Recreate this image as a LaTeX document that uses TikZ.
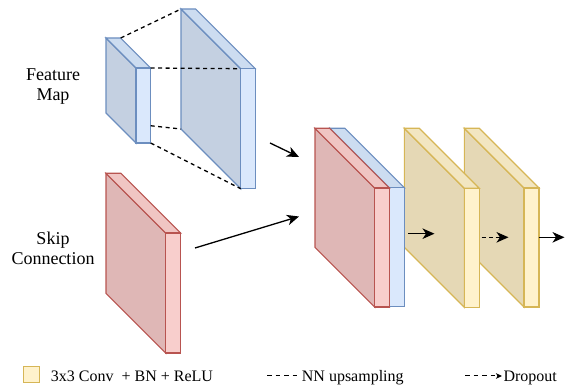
\documentclass[tikz,border=0pt]{standalone}
\usepackage{fontspec}
\setmainfont{Liberation Serif}
\newfontfamily\lblfont{Liberation Serif}
\usetikzlibrary{arrows.meta,calc}
\definecolor{bluefront}{HTML}{DAE8FC}
\definecolor{bluetop}{HTML}{CCDCF0}
\definecolor{bluedark}{HTML}{C4D0E1}
\definecolor{bluestroke}{HTML}{6C8EBF}
\definecolor{redfront}{HTML}{F8CECC}
\definecolor{redtop}{HTML}{F0C5C3}
\definecolor{reddark}{HTML}{DFB7B6}
\definecolor{redstroke}{HTML}{B85450}
\definecolor{yelfront}{HTML}{FFF2CC}
\definecolor{yeltop}{HTML}{F2E6C1}
\definecolor{yeldark}{HTML}{E5D8B5}
\definecolor{yelstroke}{HTML}{D6B656}
\tikzset{
  slabline/.style={line width=1.1pt, line join=miter},
  upline/.style={line width=1.3pt, dash pattern=on 4pt off 3.5pt},
  arr/.style={-{Stealth[length=12pt,width=10.5pt,inset=3.5pt]}, line width=1.3pt},
  smallarr/.style={-{Stealth[length=6pt,width=5.5pt,inset=1.5pt]}, line width=1pt},
  lbl/.style={font=\lblfont\fontsize{18}{20}\selectfont, align=center, inner sep=0pt},
  legtxt/.style={font=\lblfont\fontsize{16}{19}\selectfont, anchor=base west, inner sep=0pt},
}
% #1 name, #2 x, #3 y, #4 narrow width, #5 height, #6 depth, #7 colour prefix
\newcommand\slabblock[7]{%
  \path (#2,#3) coordinate (#1-tl) ++(#4,0) coordinate (#1-ttr)
        ++(#6,#6) coordinate (#1-ftr) ++(0,#5) coordinate (#1-fbr)
        ++(-#4,0) coordinate (#1-fbl) ++(0,-#5) coordinate (#1-ftl);
  \coordinate (#1-bl) at (#2,#3+#5);
  \draw[slabline, draw=#7stroke, fill=#7dark] (#1-tl) -- (#1-ftl) -- (#1-fbl) -- (#1-bl) -- cycle;
  \draw[slabline, draw=#7stroke, fill=#7top] (#1-tl) -- (#1-ttr) -- (#1-ftr) -- (#1-ftl) -- cycle;
  \draw[slabline, draw=#7stroke, fill=#7front] (#1-ftl) rectangle (#1-fbr);
}
\begin{document}
\begin{tikzpicture}[x=1pt,y=-1pt]
\useasboundingbox (0,0) rectangle (566,387);
% feature map blocks
\slabblock{fmS}{106}{38}{14.7}{75}{30}{blue}
\slabblock{fmB}{181}{9}{14.7}{120}{59.7}{blue}
\draw[upline] (fmS-ttr) -- (fmB-tl);
\draw[upline] (fmS-ftr) -- (fmB-ftl);
\coordinate (fmS-mid) at ($(fmS-ftr)!0.77!(fmS-fbr)$);
\draw[upline] (fmS-mid) -- (fmB-bl);
\draw[upline] (fmS-fbr) -- (fmB-fbl);
% skip connection
\slabblock{skip}{106}{173.3}{15}{120}{59.7}{red}
% right stack
\slabblock{yb}{464.3}{128.3}{15}{119}{59.7}{yel}
\slabblock{ya}{404.3}{128.3}{15}{119}{60}{yel}
\slabblock{cb}{330}{128.3}{15}{119}{59.5}{blue}
\slabblock{cr}{315}{128.3}{14.7}{119}{59.7}{red}
% labels
\node[lbl] (fmlabel) at (53,86.8) {Feature\\Map};
\node[lbl] (sklabel) at (53,248.5) {Skip\\Connection};
% arrows
\coordinate (a1s) at (270,143); \coordinate (a1e) at (299,157);
\coordinate (a2s) at (195,248); \coordinate (a2e) at (299,216.5);
\draw[arr] (a1s) -- (a1e);
\draw[arr] (a2s) -- (a2e);
\coordinate (a3s) at (408,233.7); \coordinate (a3e) at (434.5,233.7);
\draw[arr] (a3s) -- (a3e);
\coordinate (a4s) at (481.5,237.3); \coordinate (a4e) at (508.5,237.3);
\draw[line width=1.3pt, dash pattern=on 4pt off 3.5pt, shorten >=11pt] (a4s) -- (a4e);
\draw[arr] ($(a4e)+(-13,0)$) -- (a4e);
\coordinate (a5s) at (538.5,237.3); \coordinate (a5e) at (564.5,237.3);
\draw[arr] (a5s) -- (a5e);
% legend
\draw[slabline, draw=yelstroke, fill=yelfront] (23.3,366.7) rectangle (39.3,382.3);
\node[legtxt] (leg1) at (50.7,381.5) {3x3 Conv~ + BN + ReLU};
\coordinate (l2s) at (267,376); \coordinate (l2e) at (300,376);
\draw[line width=1pt, dash pattern=on 4.5pt off 4pt] (l2s) -- (l2e);
\node[legtxt] (leg2) at (301.7,381.3) {NN upsampling};
\coordinate (l3s) at (465,376); \coordinate (l3e) at (502,376);
\draw[smallarr, dash pattern=on 4.5pt off 4pt] (l3s) -- (l3e);
\node[legtxt] (leg3) at (503.3,381.3) {Dropout};
\end{tikzpicture}
\end{document}
